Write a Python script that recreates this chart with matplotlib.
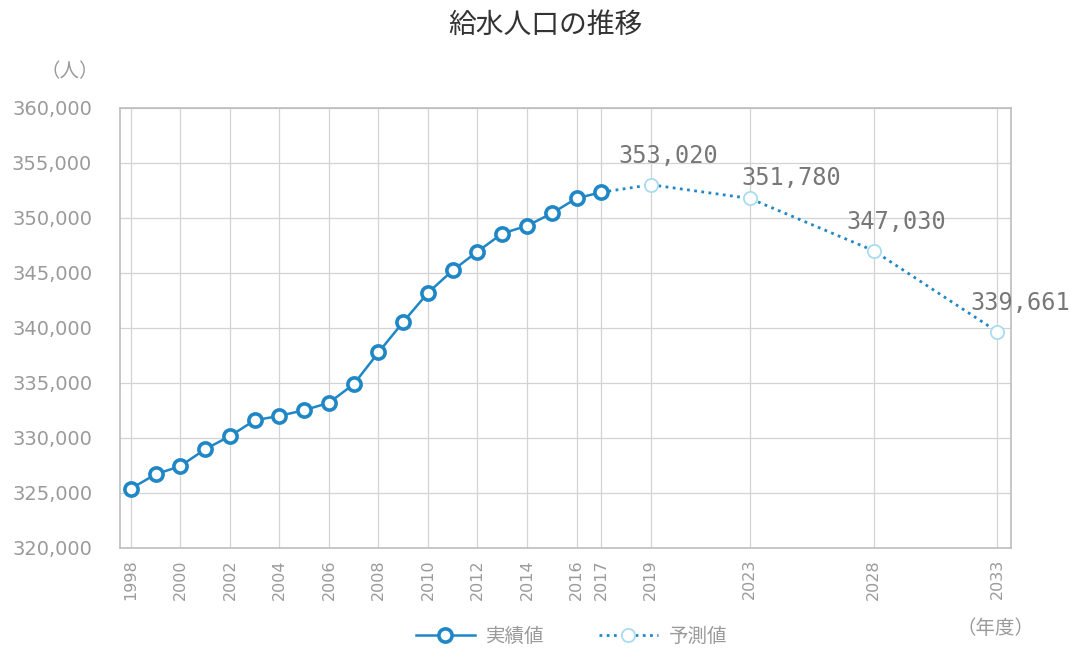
import matplotlib.pyplot as plt
from matplotlib.lines import Line2D

plt.rcParams['font.family'] = ['Noto Sans CJK JP', 'DejaVu Sans']

# actual values (実績値)
years = list(range(1998, 2018))
actual = [325400, 326700, 327450, 328980, 330170, 331610, 332010, 332530,
          333200, 334890, 337780, 340550, 343200, 345240, 346950, 348590,
          349290, 350420, 351790, 352340]

# forecast values (予測値)
fc_years = [2019, 2023, 2028, 2033]
forecast = [353020, 351780, 347030, 339661]
fc_labels = ['353,020', '351,780', '347,030', '339,661']
label_offsets = [(-32, 17), (-8, 8), (-27, 17), (-27, 17)]

xticks = [1998, 2000, 2002, 2004, 2006, 2008, 2010, 2012, 2014, 2016, 2017,
          2019, 2023, 2028, 2033]
yticks = list(range(320000, 360001, 5000))

blue = '#1f87c6'
light = '#a9dcee'
gray = '#9a9a9a'
grid = '#d3d3d3'

fig = plt.figure(figsize=(10.74, 6.51), dpi=100)
ax = fig.add_axes([120 / 1074, 1 - 548 / 651, 891 / 1074, 440 / 651])

# dotted forecast line, starting at last actual point
ax.plot([years[-1]] + fc_years, [actual[-1]] + forecast, ls=(0, (1, 1.6)),
        color=blue, lw=2, zorder=2)
ax.plot(fc_years, forecast, ls='none', marker='o', ms=9.5, mfc='white',
        mec=light, mew=1.3, zorder=3)
ax.plot(years, actual, color=blue, lw=1.8, marker='o', ms=9.5, mfc='white',
        mec=blue, mew=2.6, zorder=4)

for x, y, t, off in zip(fc_years, forecast, fc_labels, label_offsets):
    ax.annotate(t, (x, y), xytext=off, textcoords='offset pixels',
                family='DejaVu Sans Mono', fontsize=17, color='#777777',
                ha='left', va='bottom')

ax.set_xlim(1997.56, 2033.55)
ax.set_ylim(320000, 360000)
ax.set_xticks(xticks)
ax.set_xticklabels([str(v) for v in xticks], rotation=90, fontsize=11.5,
                   color=gray, family='DejaVu Sans')
ax.set_yticks(yticks)
ax.set_yticklabels(['{:,}'.format(v) for v in yticks], fontsize=14,
                   color=gray, family='DejaVu Sans')
ax.tick_params(axis='x', length=0, pad=8)
ax.tick_params(axis='y', length=0, pad=20)
ax.grid(True, color=grid, lw=0.9)
ax.set_axisbelow(True)
for s in ax.spines.values():
    s.set_color('#bdbdbd')
    s.set_linewidth(1.2)

fig.text(545 / 1074, 1 - 25 / 651, '給水人口の推移', fontsize=20,
         color='#333333', ha='center', va='center')
fig.text(70 / 1074, 1 - 72 / 651, '（人）', fontsize=14, color=gray,
         ha='center', va='center')
fig.text(995 / 1074, 1 - 628 / 651, '（年度）', fontsize=14, color=gray,
         ha='center', va='center')

handles = [
    Line2D([], [], color=blue, lw=1.8, marker='o', ms=9.5, mfc='white',
           mec=blue, mew=2.6),
    Line2D([], [], color=blue, lw=2, ls=(0, (1, 1.6)), marker='o', ms=9.5,
           mfc='white', mec=light, mew=1.3),
]
fig.legend(handles, ['実績値', '予測値'], loc='center',
           bbox_to_anchor=(572 / 1074, 1 - 636 / 651), ncol=2, frameon=False,
           fontsize=14, labelcolor=gray, handlelength=3, handletextpad=0.6,
           columnspacing=2.8)

fig.savefig('out.png', dpi=100)
